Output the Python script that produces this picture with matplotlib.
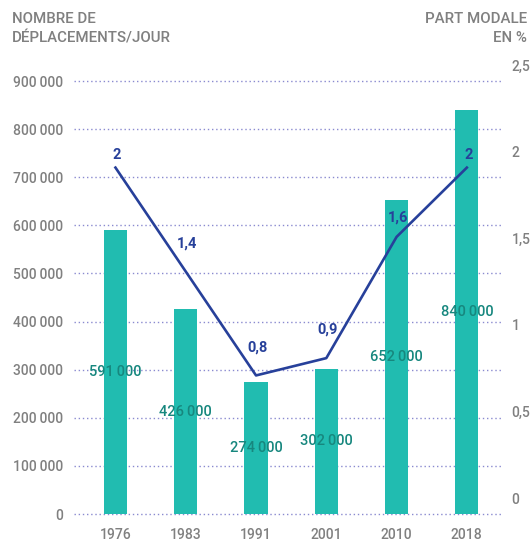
import matplotlib
matplotlib.use("Agg")
import matplotlib.pyplot as plt
import matplotlib.transforms as mtransforms

# data
years = ["1976", "1983", "1991", "2001", "2010", "2018"]
trips = [591000, 426000, 274000, 302000, 652000, 840000]
share = [2.0, 1.4, 0.8, 0.9, 1.6, 2.0]
share_labels = ["2", "1,4", "0,8", "0,9", "1,6", "2"]
left_ticks = [0, 100000, 200000, 300000, 400000, 500000, 600000, 700000, 800000, 900000]
right_ticks = [0, 0.5, 1, 1.5, 2, 2.5]
right_tick_labels = ["0", "0,5", "1", "1,5", "2", "2,5"]

TEAL = "#21bcb0"
TEAL_DARK = "#17877e"
BLUE = "#27409a"
GREY = "#808080"
GRID = "#8a8ad0"

plt.rcParams["font.family"] = ["Roboto", "DejaVu Sans"]
plt.rcParams["font.weight"] = "medium"

def fmt(v):
    return f"{v:,}".replace(",", "\u2009")

fig = plt.figure(figsize=(5.32, 5.42), dpi=100)
ax = fig.add_axes([74 / 532, 28 / 542, 428 / 532, 433 / 542])
x = list(range(len(years)))

ax.bar(x, trips, width=0.33, color=TEAL, zorder=2)
for xi, v in zip(x, trips):
    ax.text(xi, v / 2, fmt(v), ha="center", va="center", color=TEAL_DARK,
            fontsize=10.5, zorder=4)

ax.set_xlim(-0.59, 5.5)
ax.set_ylim(0, 900000)
ax.set_yticks(left_ticks)
ax.set_yticklabels([fmt(t) for t in left_ticks])
ax.set_xticks(x)
ax.set_xticklabels(years)
ax.tick_params(axis="both", length=0, colors=GREY, labelsize=10)
ax.tick_params(axis="y", pad=8)
ax.tick_params(axis="x", pad=10)
for s in ax.spines.values():
    s.set_visible(False)
ax.grid(axis="y", color=GRID, linestyle=(0, (1, 2)), linewidth=1.0, zorder=0)
for gl in ax.get_ygridlines():
    gl.set_clip_on(False)
ax.set_axisbelow(True)

ax2 = ax.twinx()
ax2.plot(x, share, color=BLUE, linewidth=1.9, zorder=3)
label_offsets = [13, 28, 28, 29, 19, 13]
for xi, v, lab, off in zip(x, share, share_labels, label_offsets):
    ax2.annotate(lab, (xi, v), xytext=(1, off * 0.72), textcoords="offset points",
                 ha="center", va="center", color=BLUE, fontsize=10.5,
                 fontweight="bold")
ax2.set_ylim(0, 2.5)
ax2.set_yticks(right_ticks)
ax2.set_yticklabels(right_tick_labels)
ax2.tick_params(axis="y", length=0, colors=GREY, labelsize=10, pad=7)
for s in ax2.spines.values():
    s.set_visible(False)
shift = mtransforms.ScaledTranslation(0, 16 / 100, fig.dpi_scale_trans)
for lab in ax2.get_yticklabels():
    lab.set_transform(lab.get_transform() + shift)

fig.text(12 / 532, 1 - 12 / 542, "NOMBRE DE\nDÉPLACEMENTS/JOUR", ha="left", va="top",
         color=GREY, fontsize=10.8, linespacing=1.5)
fig.text(527 / 532, 1 - 12 / 542, "PART MODALE\nEN %", ha="right", va="top",
         color=GREY, fontsize=10.8, linespacing=1.5, multialignment="right")

fig.savefig("out.png", dpi=100)
